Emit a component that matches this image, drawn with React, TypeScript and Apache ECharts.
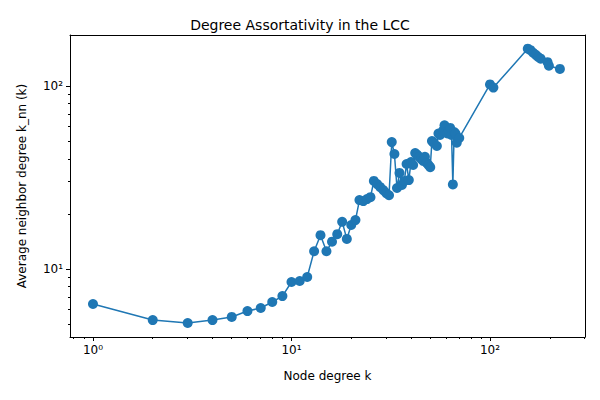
import React, { useEffect, useRef } from 'react';
import * as echarts from 'echarts';

const degrees = [
  1, 2, 3, 4, 5, 6, 7, 8, 9, 10, 11, 12, 13, 14, 15, 16, 17, 18, 19, 20,
  21, 22, 23, 24, 25, 26, 27, 28, 29, 30, 31, 32, 33, 34, 35, 36, 37, 38, 39, 40,
  41, 42, 43, 44, 45, 46, 47, 48, 49, 50, 51, 52, 54, 55, 56, 58, 59, 60, 61, 62,
  63, 64, 65, 66, 67, 68, 70, 100, 104, 155, 160, 165, 170, 175, 180, 195, 198, 225,
];
const knn = [
  6.44, 5.26, 5.07, 5.26, 5.47, 5.89, 6.12, 6.6, 7.11, 8.49, 8.6, 9.04, 12.5, 15.3, 12.5, 14.1, 15.5, 18.1, 14.6, 17.4,
  18.5, 23.8, 23.5, 24.1, 24.7, 30.3, 29.1, 28.0, 27.0, 26.0, 25.3, 49.4, 42.5, 27.7, 33.5, 28.8, 30.3, 37.5, 30.6, 38.4,
  37.0, 43, 42, 41, 40, 39, 41, 38, 37, 36, 50, 49, 47, 55, 54, 57, 61, 56, 55, 57,
  59, 54, 29, 56, 55, 49, 52, 102, 98, 160, 157, 152, 148, 144, 141, 135, 129, 124,
];
const majorTicks = [0, 1, 2];
const xMinor = [0.8, 0.9, 2, 3, 4, 5, 6, 7, 8, 9, 20, 30, 40, 50, 60, 70, 80, 90, 200, 300];
const yMinor = [5, 6, 7, 8, 9, 20, 30, 40, 50, 60, 70, 80, 90];
const sup = ['⁰', '¹', '²'];

const xMin = Math.log10(0.766);
const xMax = Math.log10(301);
const yMin = Math.log10(4.25);
const yMax = Math.log10(190);

const label = (v: number) => '10' + sup[Math.round(v)];
const font = 'DejaVu Sans';

export default function App() {
  const ref = useRef<HTMLDivElement>(null);
  useEffect(() => {
    if (!ref.current) return;
    const chart = echarts.init(ref.current, undefined, { renderer: 'svg' });
    const axisBase = (min: number, max: number) => ({
      type: 'value' as const,
      min,
      max,
      splitLine: { show: false },
    });
    chart.setOption({
      animation: false,
      textStyle: { fontFamily: font },
      title: {
        text: 'Degree Assortativity in the LCC',
        left: 'center',
        top: 13,
        textStyle: { fontSize: 14, fontWeight: 'normal', color: '#000', fontFamily: font },
      },
      grid: { left: 70, right: 15, top: 35, bottom: 63 },
      xAxis: [
        {
          ...axisBase(xMin, xMax),
          name: 'Node degree k',
          nameLocation: 'middle',
          nameGap: 33,
          nameTextStyle: { fontSize: 12, color: '#000' },
          axisLine: { onZero: false, lineStyle: { color: '#000' } },
          axisTick: { customValues: majorTicks, length: 4, lineStyle: { color: '#000' } },
          axisLabel: { customValues: majorTicks, formatter: label, fontSize: 12, color: '#000', margin: 7 },
        },
        {
          ...axisBase(xMin, xMax),
          position: 'bottom',
          offset: 0,
          axisLine: { show: false, onZero: false },
          axisTick: { customValues: xMinor.map(Math.log10), length: 2, lineStyle: { color: '#000' } },
          axisLabel: { show: false },
        },
        {
          ...axisBase(xMin, xMax),
          position: 'top',
          axisLine: { onZero: false, lineStyle: { color: '#000' } },
          axisTick: { show: false },
          axisLabel: { show: false },
        },
      ],
      yAxis: [
        {
          ...axisBase(yMin, yMax),
          name: 'Average neighbor degree k_nn (k)',
          nameLocation: 'middle',
          nameGap: 42,
          nameTextStyle: { fontSize: 12, color: '#000' },
          axisLine: { show: true, onZero: false, lineStyle: { color: '#000' } },
          axisTick: { show: true, customValues: [1, 2], length: 4, lineStyle: { color: '#000' } },
          axisLabel: { customValues: [1, 2], formatter: label, fontSize: 12, color: '#000', margin: 7 },
        },
        {
          ...axisBase(yMin, yMax),
          position: 'left',
          offset: 0,
          axisLine: { show: false, onZero: false },
          axisTick: { show: true, customValues: yMinor.map(Math.log10), length: 2, lineStyle: { color: '#000' } },
          axisLabel: { show: false },
        },
        {
          ...axisBase(yMin, yMax),
          position: 'right',
          axisLine: { show: true, onZero: false, lineStyle: { color: '#000' } },
          axisTick: { show: false },
          axisLabel: { show: false },
        },
      ],
      series: [
        {
          type: 'line',
          data: degrees.map((d, i) => [Math.log10(d), Math.log10(knn[i])]),
          symbol: 'circle',
          symbolSize: 10,
          showAllSymbol: true,
          itemStyle: { color: '#1f77b4' },
          lineStyle: { color: '#1f77b4', width: 1.5 },
        },
      ],
    });
    return () => chart.dispose();
  }, []);
  return <div ref={ref} style={{ width: 600, height: 400, margin: -8 }} />;
}
